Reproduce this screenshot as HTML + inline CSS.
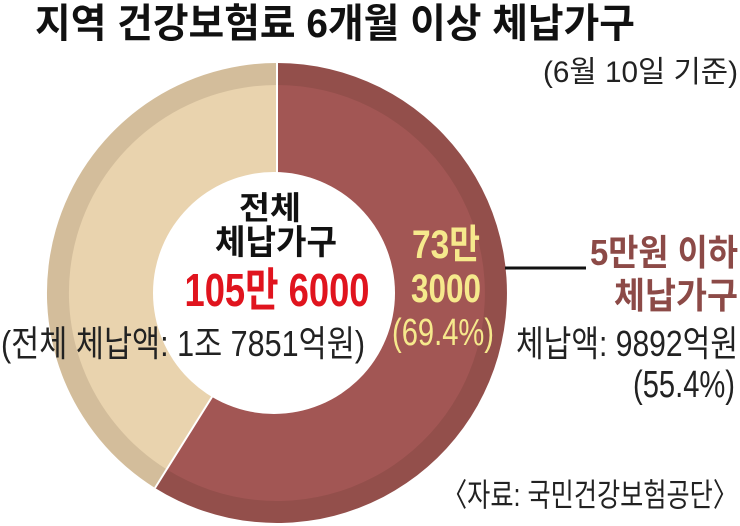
<!DOCTYPE html>
<html><head><meta charset="utf-8"><style>
html,body{margin:0;padding:0;background:#fff;}
svg{display:block;}
text{font-family:"Liberation Sans","Noto Sans CJK KR",sans-serif;}
</style></head><body>
<svg width="740" height="526" viewBox="0 0 740 526" xmlns="http://www.w3.org/2000/svg">
<rect width="740" height="526" fill="#fff"/>
<g transform="translate(277,293)">
<path d="M0,-230 A230,230 0 1 1 -122,195 L0,0 Z" fill="#934f4b"/>
<path d="M0,-230 A230,230 0 0 0 -122,195 L0,0 Z" fill="#d3bd9b"/>
<path d="M0,-208 A208,208 0 1 1 -110.3,176.4 L0,0 Z" fill="#a25654"/>
<path d="M0,-208 A208,208 0 0 0 -110.3,176.4 L0,0 Z" fill="#e9d3ae"/>
<line x1="0" y1="0" x2="0" y2="-230" stroke="#fff" stroke-width="2"/>
<line x1="0" y1="0" x2="-122" y2="195" stroke="#fff" stroke-width="2"/>
<circle cx="-3" cy="0" r="121" fill="#fff"/>
</g>
<text x="35" y="37" font-size="40" font-weight="bold" textLength="600" lengthAdjust="spacingAndGlyphs" fill="#111">지역 건강보험료 6개월 이상 체납가구</text>
<text x="738" y="82" font-size="30" text-anchor="end" textLength="195" lengthAdjust="spacingAndGlyphs" fill="#222">(6월 10일 기준)</text>
<text x="270" y="219" font-size="32" font-weight="bold" text-anchor="middle" textLength="62" lengthAdjust="spacingAndGlyphs" fill="#111">전체</text>
<text x="276" y="254" font-size="34" font-weight="bold" text-anchor="middle" textLength="122" lengthAdjust="spacingAndGlyphs" fill="#111">체납가구</text>
<text x="277" y="306" font-size="46" font-weight="bold" text-anchor="middle" textLength="185" lengthAdjust="spacingAndGlyphs" fill="#e0141e">105만 6000</text>
<text x="1" y="356" font-size="36" textLength="364" lengthAdjust="spacingAndGlyphs" fill="#222">(전체 체납액: 1조 7851억원)</text>
<text x="446" y="258" font-size="40" font-weight="bold" text-anchor="middle" textLength="68" lengthAdjust="spacingAndGlyphs" fill="#f6e98c">73만</text>
<text x="446" y="302" font-size="40" font-weight="bold" text-anchor="middle" textLength="70" lengthAdjust="spacingAndGlyphs" fill="#f6e98c">3000</text>
<text x="443" y="345" font-size="38" text-anchor="middle" textLength="102" lengthAdjust="spacingAndGlyphs" fill="#f6e98c">(69.4%)</text>
<line x1="505" y1="268" x2="586" y2="268" stroke="#111" stroke-width="3"/>
<text x="738" y="265" font-size="36" font-weight="bold" text-anchor="end" textLength="148" lengthAdjust="spacingAndGlyphs" fill="#8c4a47">5만원 이하</text>
<text x="738" y="308" font-size="36" font-weight="bold" text-anchor="end" textLength="124" lengthAdjust="spacingAndGlyphs" fill="#8c4a47">체납가구</text>
<text x="738" y="356" font-size="36" text-anchor="end" textLength="222" lengthAdjust="spacingAndGlyphs" fill="#222">체납액: 9892억원</text>
<text x="735" y="397" font-size="38" text-anchor="end" textLength="102" lengthAdjust="spacingAndGlyphs" fill="#222">(55.4%)</text>
<text x="738" y="506" font-size="32" text-anchor="end" textLength="296" lengthAdjust="spacingAndGlyphs" fill="#222">〈자료: 국민건강보험공단〉</text>
</svg>
</body></html>
